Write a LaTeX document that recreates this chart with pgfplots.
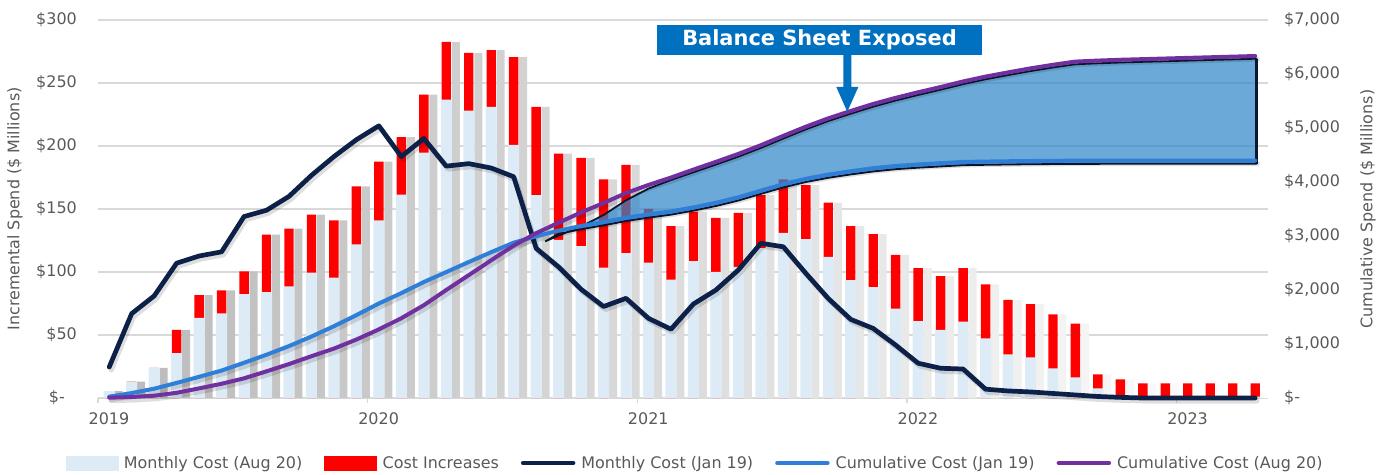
\documentclass[border=0pt]{standalone}
\usepackage{pgfplots}
\pgfplotsset{compat=1.18}
\usepackage{pgfplotstable}
\usepackage{fontspec}
\setmainfont{DejaVu Sans}
\definecolor{lightbar}{HTML}{DDEBF7}
\definecolor{redbar}{HTML}{FF0000}
\definecolor{navy}{HTML}{0C2048}
\definecolor{cumblue}{HTML}{2F7FD8}
\definecolor{cumpurple}{HTML}{7030A0}
\definecolor{bandfill}{HTML}{2C86C7}
\definecolor{bandline}{HTML}{0A1830}
\definecolor{boxblue}{HTML}{0070C0}
\definecolor{gridgray}{HTML}{D9D9D9}
\definecolor{textgray}{HTML}{595959}

% x = month index + 0.5 (Jan 2019 = 0.5); a = Monthly Cost (Aug 20); t = top of red bar (Aug 20 + increase); n = Monthly Cost (Jan 19)
\pgfplotstableread{
x a t n
0.5 5.5 5.5 24.6
1.5 13 13 67
2.5 24 24 81
3.5 35.7 54 107
4.5 63.5 81.7 112.7
5.5 67.2 85.4 116
6.5 82.5 100.5 144
7.5 84 129.6 149
8.5 88.6 134.5 160
9.5 99.5 145.6 176.7
10.5 95.5 141 191.6
11.5 122 168 205
12.5 141 187.6 216
13.5 161.5 207 191.6
14.5 194.8 240.8 206
15.5 236.8 282.7 184
16.5 228 274 186
17.5 231 276 182.5
18.5 200.8 270.6 175.6
19.5 161 231 118.8
20.5 125.4 194 104
21.5 120.6 190.5 86.3
22.5 103.4 173.6 72.6
23.5 115 185 79.1
24.5 107.5 150 63.2
25.5 94 136.5 54.6
26.5 108.7 148 74.6
27.5 100 143 85.7
28.5 104 147 101.6
29.5 119 161 122.8
30.5 131 173.6 120
31.5 126 169 99
32.5 112 155 79
33.5 93.6 136.5 62.4
34.5 88 130 55.2
35.5 71 113.5 42
36.5 61 103 27.6
37.5 54 96.8 23.6
38.5 60.6 103 23
39.5 47.4 90.2 7
40.5 34.7 77.8 5.6
41.5 32.3 74.6 4.8
42.5 23.6 66.4 3.6
43.5 16.4 59.1 2.4
44.5 7.7 18.8 1.2
45.5 2 14.8 0.5
46.5 1 11.6 0
47.5 1 11.6 0
48.5 1 11.6 0
49.5 1 11.6 0
50.5 1 11.6 0
51.5 1 11.6 0
}\bars

% cumulative spend: b = Cumulative Cost (Jan 19), p = Cumulative Cost (Aug 20)
\pgfplotstableread{
x b p
0.5 24.6 5.5
1.5 91.6 18.5
2.5 172.6 42.5
3.5 279.6 96.5
4.5 392.3 178.2
5.5 508.3 263.6
6.5 652.3 364.1
7.5 801.3 493.7
8.5 961.3 628.2
9.5 1138.0 773.8
10.5 1329.6 914.8
11.5 1534.6 1082.8
12.5 1750.6 1270.4
13.5 1942.2 1477.4
14.5 2148.2 1718.2
15.5 2332.2 2000.9
16.5 2518.2 2274.9
17.5 2700.7 2550.9
18.5 2876.3 2821.5
19.5 2995.1 3052.5
20.5 3099.1 3246.5
21.5 3185.4 3437.0
22.5 3258.0 3610.6
23.5 3337.1 3795.6
24.5 3400.3 3945.6
25.5 3454.9 4082.1
26.5 3529.5 4230.1
27.5 3615.2 4373.1
28.5 3716.8 4520.1
29.5 3839.6 4681.1
30.5 3959.6 4854.7
31.5 4058.6 5023.7
32.5 4137.6 5178.7
33.5 4200.0 5315.2
34.5 4255.2 5445.2
35.5 4297.2 5558.7
36.5 4324.8 5661.7
37.5 4348.4 5758.5
38.5 4371.4 5861.5
39.5 4378.4 5951.7
40.5 4384.0 6029.5
41.5 4388.8 6104.1
42.5 4392.4 6170.5
43.5 4394.8 6229.6
44.5 4396.0 6248.4
45.5 4396.5 6263.2
46.5 4396.5 6274.8
47.5 4396.5 6286.4
48.5 4396.5 6298.0
49.5 4396.5 6309.6
50.5 4396.5 6321.2
51.5 4396.5 6332.8
}\cum

\begin{document}
\begin{tikzpicture}
\path[use as bounding box] (-98bp,-77bp) rectangle (1292bp,398bp);
\pgfplotsset{
  base/.style={
    at={(0bp,0bp)}, anchor=south west,
    scale only axis, width=1170bp, height=378bp,
    xmin=0, xmax=52.07, clip=false,
    ticklabel style={font=\fontsize{16}{19}\selectfont, text=textgray},
  },
  lshadow/.style={black, opacity=0.13, line width=5bp, line join=round, line cap=round, xshift=2bp, yshift=-3bp, forget plot},
}
\begin{axis}[base,
  ymin=0, ymax=300,
  axis x line*=bottom, axis y line*=left,
  x axis line style={color=gridgray, line width=1.5bp, -},
  y axis line style={draw=none},
  xtick={0,12,24,36,48},
  xticklabels={2019,2020,2021,2022,2023},
  xticklabel style={xshift=11bp, yshift=-6bp},
  tick align=outside,
  major tick length=5bp,
  x tick style={color=gridgray, line width=1.5bp},
  ytick={0,50,100,150,200,250,300},
  yticklabels={\$-\hspace*{12bp},\$50,\$100,\$150,\$200,\$250,\$300},
  y tick style={draw=none},
  yticklabel style={inner sep=0pt, xshift=-16bp},
  ymajorgrids,
  grid style={color=gridgray, line width=1.5bp},
]
% bar shadows
\addplot[ybar, bar width=8bp, bar shift=9.5bp, draw=none, left color=black!27, right color=white] table[x=x, y=t] {\bars};
% cost increases (red, drawn full height) and Aug 20 monthly cost on top
\addplot[ybar, bar width=9.4bp, bar shift=0bp, draw=none, fill=redbar] table[x=x, y=t] {\bars};
\addplot[ybar, bar width=11bp, bar shift=0bp, draw=none, fill=lightbar] table[x=x, y=a] {\bars};
% monthly cost Jan 19
\addplot[lshadow] table[x=x, y=n] {\bars};
\addplot[navy, line width=4.7bp, line join=round, line cap=round] table[x=x, y=n] {\bars};
\end{axis}

\begin{axis}[base,
  ymin=0, ymax=7000,
  axis x line=none, axis y line*=right,
  y axis line style={draw=none},
  ytick={0,1000,2000,3000,4000,5000,6000,7000},
  yticklabels={\$-,{\$1,000},{\$2,000},{\$3,000},{\$4,000},{\$5,000},{\$6,000},{\$7,000}},
  y tick style={draw=none},
  yticklabel style={inner sep=0pt, xshift=16bp},
  legend style={at={(0.5103,-0.172)}, anchor=center, draw=none, fill=none,
    legend columns=5, font=\fontsize{16}{19}\selectfont, text=textgray,
    /tikz/every odd column/.append style={column sep=4bp},
    /tikz/every even column/.append style={column sep=20bp}},
]
% balance sheet exposed band
\addplot[forget plot, fill=bandfill, fill opacity=0.7, draw=bandline, line width=1.8bp, line join=round] coordinates {
(19.9,2900) (20.5,3008) (21.5,3177) (22.5,3388) (23.5,3661) (24.5,3878) (25.5,4037)
(26.5,4180) (27.5,4323) (28.5,4470) (29.5,4631) (30.5,4805) (31.5,4974) (32.5,5129)
(33.5,5265) (34.5,5395) (35.5,5509) (36.5,5612) (37.5,5709) (38.5,5812) (39.5,5902)
(40.5,5980) (41.5,6054) (42.5,6121) (43.5,6180) (44.5,6198) (45.5,6213) (46.5,6225)
(47.5,6236) (48.5,6248) (49.5,6260) (50.5,6271) (51.55,6283)
(51.55,4337) (50.5,4337) (49.5,4337) (48.5,4337) (47.5,4337) (46.5,4337) (45.5,4337)
(44.5,4336) (43.5,4335) (42.5,4332) (41.5,4329) (40.5,4324) (39.5,4318) (38.5,4311)
(37.5,4288) (36.5,4265) (35.5,4237) (34.5,4195) (33.5,4140) (32.5,4078) (31.5,3999)
(30.5,3900) (29.5,3780) (28.5,3657) (27.5,3555) (26.5,3470) (25.5,3395) (24.5,3340)
(23.5,3277) (22.5,3198) (21.5,3125) (20.5,3039) (19.9,2900)
};
\addplot[forget plot, bandline, line width=3bp] coordinates {(51.55,6283) (51.55,4337)};
\addplot[lshadow] table[x=x, y=b] {\cum};
\addplot[lshadow] table[x=x, y=p] {\cum};
\addplot[forget plot, cumblue, line width=4bp, line join=round, line cap=round] table[x=x, y=b] {\cum};
\addplot[forget plot, cumpurple, line width=4bp, line join=round, line cap=round] table[x=x, y=p] {\cum};

\addlegendimage{legend image code/.code={\fill[lightbar] (0bp,-7bp) rectangle (52bp,7bp);}}
\addlegendentry{Monthly Cost (Aug 20)}
\addlegendimage{legend image code/.code={\fill[redbar] (0bp,-7bp) rectangle (52bp,7bp);}}
\addlegendentry{Cost Increases}
\addlegendimage{legend image code/.code={\draw[navy, line width=4.5bp, line cap=round] (2bp,0bp) -- (52bp,0bp);}}
\addlegendentry{Monthly Cost (Jan 19)}
\addlegendimage{legend image code/.code={\draw[cumblue, line width=4.5bp, line cap=round] (2bp,0bp) -- (52bp,0bp);}}
\addlegendentry{Cumulative Cost (Jan 19)}
\addlegendimage{legend image code/.code={\draw[cumpurple, line width=4.5bp, line cap=round] (2bp,0bp) -- (52bp,0bp);}}
\addlegendentry{Cumulative Cost (Aug 20)}
\end{axis}

\node[rotate=90, text=textgray, font=\fontsize{16}{19}\selectfont] at (-83bp,189bp) {Incremental Spend (\$ Millions)};
\node[rotate=90, text=textgray, font=\fontsize{16}{19}\selectfont] at (1270bp,189bp) {Cumulative Spend (\$ Millions)};
\node[fill=boxblue, text=white, font=\bfseries\fontsize{21}{25}\selectfont, minimum width=325bp, minimum height=30bp, inner sep=0pt] at (721.5bp,358bp) {Balance Sheet Exposed};
\fill[boxblue] (745.3bp,343.5bp) -- (745.3bp,311bp) -- (738.3bp,311bp) -- (749.3bp,286.3bp) -- (760.3bp,311bp) -- (753.3bp,311bp) -- (753.3bp,343.5bp) -- cycle;
\end{tikzpicture}
\end{document}
